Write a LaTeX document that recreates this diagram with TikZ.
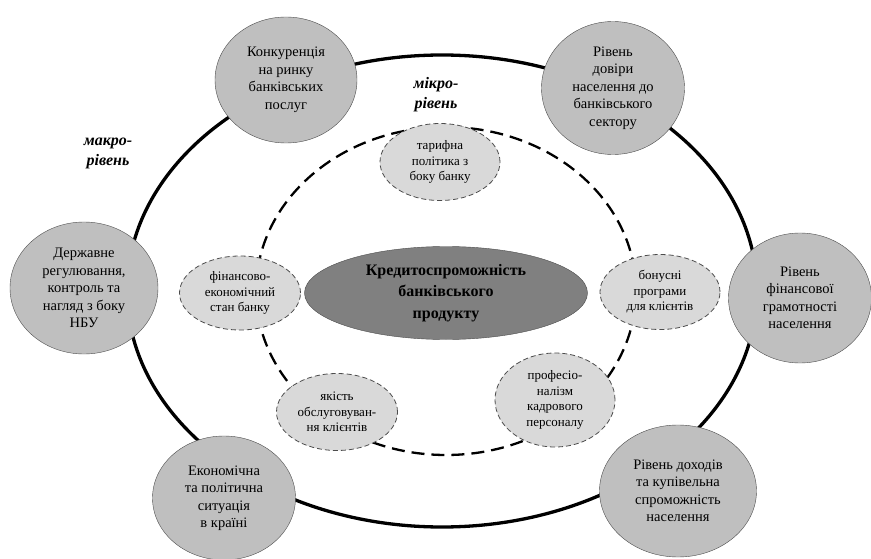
\documentclass[tikz,border=0pt]{standalone}
\usepackage{fontspec}
\setmainfont{Liberation Serif}
\usepackage{tikz}
\usetikzlibrary{shapes.geometric}
\definecolor{circgray}{rgb}{0.75, 0.75, 0.75}
\definecolor{lightgray}{rgb}{0.85, 0.85, 0.85}
\definecolor{centergray}{rgb}{0.5, 0.5, 0.5}
\definecolor{edgegray}{rgb}{0.3, 0.3, 0.3}

\begin{document}
\begin{tikzpicture}[x=1pt, y=-1pt,
		macro/.style={ellipse, draw=edgegray, fill=circgray, inner sep=0pt, align=center, font=\fontsize{14.5}{17.5}\selectfont},
		micro/.style={ellipse, draw=edgegray, line width=0.8pt, dash pattern=on 5pt off 3pt, fill=lightgray, inner sep=0pt, align=center, font=\fontsize{13}{15.5}\selectfont},
		levelname/.style={align=center, font=\fontsize{16}{20}\selectfont\bfseries\itshape}]
		\useasboundingbox (0,0) rectangle (871,559);
		\draw [line width=3.3pt] (442,291) ellipse [x radius=315, y radius=236];
		\draw [line width=2.3pt, dash pattern=on 13pt off 7pt] (446,291) ellipse [x radius=190, y radius=164];
		
		\node [levelname] (makro) at (108,153) {макро-\\рівень};
		\node [levelname] (mikro) at (436,95) {мікро-\\рівень};
		
		\node [macro, minimum width=142, minimum height=126] (konk) at (286,80) {Конкуренція\\на ринку\\банківських\\послуг};
		\node [macro, minimum width=143, minimum height=133] (dovira) at (613,88) {Рівень\\довіри\\населення до\\банківського\\сектору};
		\node [macro, minimum width=148, minimum height=132] (derzh) at (84,288) {Державне\\регулювання,\\контроль та\\нагляд з боку\\НБУ};
		\node [macro, minimum width=143, minimum height=130] (gramot) at (800,298) {Рівень\\фінансової\\грамотності\\населення};
		\node [macro, minimum width=143, minimum height=124] (ekon) at (224,498) {Економічна\\та політична\\ситуація\\в країні};
		\node [macro, minimum width=157, minimum height=132] (dohody) at (678,491) {Рівень доходів\\та купівельна\\спроможність\\населення};
		
		\node [micro, minimum width=120, minimum height=77] (taryf) at (440,162) {тарифна\\політика з\\боку банку};
		\node [micro, minimum width=121, minimum height=74] (fin) at (240,293) {фінансово-\\економічний\\стан банку};
		\node [micro, minimum width=120, minimum height=75] (bonus) at (660,292) {бонусні\\програми\\для клієнтів};
		\node [micro, minimum width=121, minimum height=77] (yakist) at (337,412) {якість\\обслуговуван-\\ня клієнтів};
		\node [micro, minimum width=120, minimum height=94] (prof) at (555,400) {професіо-\\налізм\\кадрового\\персоналу};
		
		\node [ellipse, draw=edgegray, fill=centergray, minimum width=283, minimum height=93, inner sep=0pt, align=center, font=\fontsize{16}{21.5}\selectfont\bfseries] (kredyt) at (446,293) {Кредитоспроможність\\банківського\\продукту};
	\end{tikzpicture}
\end{document}
